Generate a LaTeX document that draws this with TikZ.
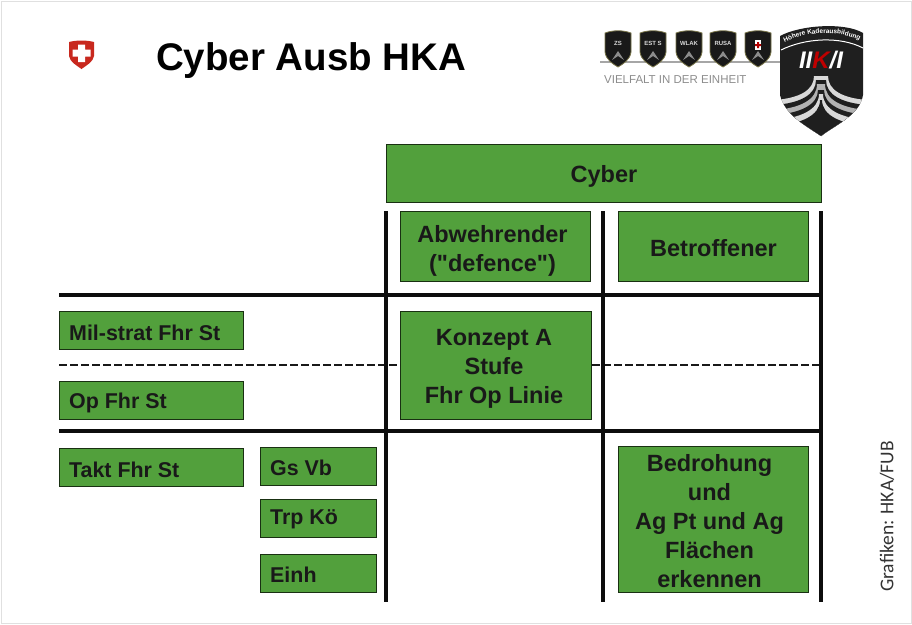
\documentclass[tikz,border=0pt]{standalone}
\usepackage{fontspec}
\setmainfont{Liberation Sans}
\newfontfamily\quotefont{Liberation Sans}
\newfontfamily\grafikfont{Carlito}
\usetikzlibrary{decorations.text}
\definecolor{boxgreen}{RGB}{82,160,60}
\definecolor{swissred}{RGB}{200,40,30}
\tikzset{
  greenbox/.style={draw=black!70!boxgreen,line width=1pt,fill=boxgreen,anchor=north west,inner sep=0pt},
  biglabel/.style={align=center,inner sep=0pt,text=black!90,font=\fontsize{23.500}{29}\selectfont\bfseries},
  leftlabel/.style={anchor=west,inner sep=0pt,text=black!90,font=\fontsize{21.400}{24}\selectfont\bfseries},
  gridline/.style={line width=4.6pt,black!95},
  dashline/.style={line width=2.2pt,dash pattern=on 8pt off 3pt,black!90},
  badge/.pic={
    \draw[fill=black!90,draw=black!60!yellow,line width=0.8pt] (-13,-15) .. controls (-5,-18) and (5,-18) .. (13,-15) -- (13,4) .. controls (12,12) and (5,16) .. (0,19) .. controls (-5,16) and (-12,12) .. (-13,4) -- cycle;
  }
}
\begin{document}
\begin{tikzpicture}[x=1pt,y=-1pt]
  \useasboundingbox (0,0) rectangle (912,624);
  \draw[black!12,line width=1pt] (1,1) rectangle (911,623);

  % swiss shield
  \fill[swissred] (69,42) .. controls (77,40) and (86,40) .. (94,42) -- (94,56) .. controls (93,62) and (87,65) .. (81.500,69) .. controls (76,65) and (70,62) .. (69,56) -- cycle;
  \fill[white] (78,44.500) rectangle (85,62) (72.500,49.500) rectangle (90.500,56.500);

  % title
  \node[anchor=west,font=\fontsize{38.500}{40}\selectfont\bfseries,inner sep=0pt] (title) at (156,61) {Cyber Ausb HKA};

  % badges in the top right corner
  \draw[black!35,line width=1.5pt] (600,62) -- (780,62);
  \foreach \x/\btext in {618/ZS,653/EST S,689/WLAK,723/RUSA,758/} {
    \pic at (\x,48) {badge};
    \node[font=\fontsize{6}{6}\selectfont\bfseries,text=black!15,inner sep=0pt] (badge\x) at (\x,43) {\btext};
    \fill[black!45] (\x-6,60) -- (\x,51) -- (\x+6,60) -- (\x,56) -- cycle;
  }
  \fill[white] (755,40) rectangle (761,50);
  \fill[red!70!black] (757,42) rectangle (759,48) (755,44) rectangle (761,46);
  \node[anchor=west,font=\fontsize{11.500}{12}\selectfont,text=black!45,inner sep=0pt] (motto) at (604,80) {VIELFALT IN DER EINHEIT};

  % big HKA shield
  \fill[black!88] (780,36) .. controls (800,25) and (845,22) .. (863,33) -- (863,95) .. controls (860,115) and (835,125) .. (821,136) .. controls (805,125) and (785,115) .. (780,95) -- cycle;
  \begin{scope}
    \clip (780,36) .. controls (800,25) and (845,22) .. (863,33) -- (863,95) .. controls (860,115) and (835,125) .. (821,136) .. controls (805,125) and (785,115) .. (780,95) -- cycle;
    % swept stripes of the shield
    \foreach \a/\w/\e/\tone in {76/7/98/15,80/5/103/88,84/4/108/30,90/3/113/88,94/2/118/15,100/1/124/88} {
      \fill[black!\tone] (821-\w,\a) .. controls (821-\w,\e-8) and (800,\e) .. (775,\e+2) -- (775,140) -- (867,140) -- (867,\e+2) .. controls (842,\e) and (821+\w,\e-8) .. (821+\w,\a) -- cycle;
    }
  \end{scope}
  \path[decorate,decoration={text along path,text align=center,
    text={|\fontsize{6.500}{7}\selectfont\bfseries\color{white}|Höhere Kaderausbildung}}]
    (781,44) .. controls (805,31) and (840,29) .. (863,42);
  \draw[white,line width=1pt] (781,50) .. controls (805,38) and (840,36) .. (863,48);
  \node[font=\fontsize{24}{24}\selectfont\bfseries\itshape,text=white,inner sep=0pt] (hka) at (821,60) {II\textcolor{red!75!black}{K}/I};

  % boxes of the top row
  \node[greenbox,minimum width=435pt,minimum height=58pt] (cyber) at (386,144) {};
  \node[biglabel,yshift=-3pt] (cyberlabel) at (cyber.center) {Cyber};
  \node[greenbox,minimum width=190pt,minimum height=70pt] (abwehr) at (400,211) {};
  \node[biglabel,xshift=-3pt,yshift=-4pt] (abwehrlabel) at (abwehr.center) {Abwehrender\\({\quotefont"}defence{\quotefont"})};
  \node[greenbox,minimum width=190pt,minimum height=70pt] (betroffen) at (618,211) {};
  \node[biglabel,yshift=-2pt] (betroffenlabel) at (betroffen.center) {Betroffener};

  % middle and bottom cells
  \node[greenbox,minimum width=191pt,minimum height=108pt] (konzept) at (400,311) {};
  \node[biglabel,xshift=-2pt,yshift=-3pt] (konzeptlabel) at (konzept.center) {Konzept A\\Stufe\\Fhr Op Linie};
  \node[greenbox,minimum width=190pt,minimum height=146pt] (bedrohung) at (618,446) {};
  \node[biglabel,xshift=-4pt,yshift=-1.500pt] (bedrohunglabel) at (bedrohung.center) {Bedrohung\\und\\Ag Pt und Ag\\Flächen\\erkennen};

  % levels on the left
  \foreach \name/\ypos/\btext in {milstrat/311/Mil-strat Fhr St,opfhr/381/Op Fhr St,takt/448/Takt Fhr St} {
    \node[greenbox,minimum width=184pt,minimum height=38pt] (\name) at (59,\ypos) {};
    \node[leftlabel,xshift=10pt,yshift=-2pt] (\name label) at (\name.west) {\btext};
  }
  \foreach \name/\ypos/\btext in {gsvb/447/Gs Vb,trpkoe/499/Trp Kö,einh/554/Einh} {
    \node[greenbox,minimum width=116pt,minimum height=38pt] (\name) at (260,\ypos) {};
    \node[leftlabel,xshift=10pt,yshift=-1pt] (\name label) at (\name.west) {\btext};
  }

  % grid lines
  \coordinate (h1a) at (59,295);
  \coordinate (h1b) at (823,295);
  \coordinate (h2a) at (59,431);
  \coordinate (h2b) at (823,431);
  \coordinate (d1) at (59,365);
  \coordinate (d2) at (821,365);
  \draw[gridline] (h1a) -- (h1b);
  \draw[gridline] (h2a) -- (h2b);
  \draw[dashline] (d1) -- (d1 -| konzept.west);
  \draw[dashline] (d2 -| konzept.east) -- (d2);
  \foreach \x in {386,603,821} {
    \coordinate (v\x a) at (\x,211);
    \coordinate (v\x b) at (\x,602);
    \draw[gridline] (v\x a) -- (v\x b);
  }

  % credit
  \node[rotate=90,anchor=west,font=\fontsize{19.500}{22}\selectfont\grafikfont,text=black!80,inner sep=0pt] (credit) at (887,592) {Grafiken: HKA/FUB};
\end{tikzpicture}
\end{document}
